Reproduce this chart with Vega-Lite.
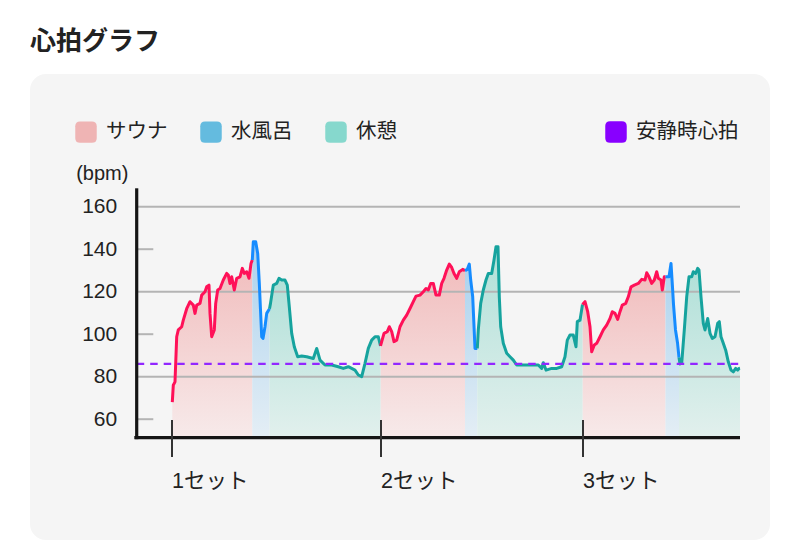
{
  "$schema": "https://vega.github.io/schema/vega-lite/v6.json",
  "width": 740,
  "height": 466,
  "autosize": {"type": "none"},
  "padding": {"left": 30, "top": 74, "right": 30, "bottom": 1},
  "background": "#ffffff",
  "view": {"fill": "#f5f5f5", "stroke": null, "cornerRadius": 16},
  "config": {
    "view": {"fill": "#f5f5f5", "stroke": null, "cornerRadius": 16},
    "font": "Liberation Sans"
  },
  "title": {
    "text": "心拍グラフ",
    "anchor": "start",
    "frame": "group",
    "font": "Noto Sans CJK JP",
    "fontSize": 26,
    "fontWeight": "bold",
    "color": "#222222",
    "offset": 19
  },
  "resolve": {"scale": {"color": "independent"}, "legend": {"color": "independent"}},
  "datasets": {
    "hr": [
      {"t":36.3,"hr":68,"phase":"サウナ","set":1},{"t":37.3,"hr":76,"phase":"サウナ","set":1},{"t":39,"hr":77.6,"phase":"サウナ","set":1},{"t":40.7,"hr":98.8,"phase":"サウナ","set":1},{"t":42.3,"hr":102,"phase":"サウナ","set":1},{"t":45.7,"hr":103.5,"phase":"サウナ","set":1},{"t":47.3,"hr":106.6,"phase":"サウナ","set":1},{"t":50.7,"hr":112,"phase":"サウナ","set":1},{"t":54,"hr":115.3,"phase":"サウナ","set":1},{"t":57.3,"hr":113.7,"phase":"サウナ","set":1},{"t":59,"hr":109.8,"phase":"サウナ","set":1},{"t":60.7,"hr":113.7,"phase":"サウナ","set":1},{"t":64,"hr":114.5,"phase":"サウナ","set":1},{"t":65.7,"hr":118.4,"phase":"サウナ","set":1},{"t":69,"hr":120,"phase":"サウナ","set":1},{"t":70.7,"hr":122.3,"phase":"サウナ","set":1},{"t":73,"hr":123.1,"phase":"サウナ","set":1},{"t":74,"hr":109.8,"phase":"サウナ","set":1},{"t":75.7,"hr":98.8,"phase":"サウナ","set":1},{"t":78.3,"hr":102,"phase":"サウナ","set":1},{"t":79.7,"hr":114.5,"phase":"サウナ","set":1},{"t":81.7,"hr":120.8,"phase":"サウナ","set":1},{"t":84,"hr":121.5,"phase":"サウナ","set":1},{"t":87.3,"hr":125.5,"phase":"サウナ","set":1},{"t":90.7,"hr":128.6,"phase":"サウナ","set":1},{"t":92.3,"hr":127.8,"phase":"サウナ","set":1},{"t":94,"hr":123.9,"phase":"サウナ","set":1},{"t":95.7,"hr":127,"phase":"サウナ","set":1},{"t":98.3,"hr":120.8,"phase":"サウナ","set":1},{"t":100.7,"hr":126.3,"phase":"サウナ","set":1},{"t":104,"hr":127,"phase":"サウナ","set":1},{"t":106.3,"hr":131,"phase":"サウナ","set":1},{"t":108.3,"hr":128.6,"phase":"サウナ","set":1},{"t":110.7,"hr":129.4,"phase":"サウナ","set":1},{"t":113,"hr":126.3,"phase":"サウナ","set":1},{"t":115,"hr":133.3,"phase":"サウナ","set":1},{"t":116.3,"hr":134.9,"phase":"サウナ","set":1},
      {"t":116.3,"hr":134.9,"phase":"水風呂","set":1},{"t":117.3,"hr":143.5,"phase":"水風呂","set":1},{"t":119.7,"hr":143.5,"phase":"水風呂","set":1},{"t":121.7,"hr":138,"phase":"水風呂","set":1},{"t":123.3,"hr":124,"phase":"水風呂","set":1},{"t":125.7,"hr":98.8,"phase":"水風呂","set":1},{"t":127,"hr":98,"phase":"水風呂","set":1},{"t":129,"hr":103.5,"phase":"水風呂","set":1},{"t":130.7,"hr":109.8,"phase":"水風呂","set":1},{"t":133.5,"hr":112,"phase":"水風呂","set":1},
      {"t":133.5,"hr":112,"phase":"休憩","set":1},{"t":134.5,"hr":114.5,"phase":"休憩","set":1},{"t":137.3,"hr":123.1,"phase":"休憩","set":1},{"t":140.7,"hr":123.9,"phase":"休憩","set":1},{"t":143,"hr":126.3,"phase":"休憩","set":1},{"t":145.7,"hr":125.5,"phase":"休憩","set":1},{"t":149,"hr":125.5,"phase":"休憩","set":1},{"t":151.3,"hr":123.1,"phase":"休憩","set":1},{"t":153.3,"hr":112.9,"phase":"休憩","set":1},{"t":155.7,"hr":100.4,"phase":"休憩","set":1},{"t":158.3,"hr":94.1,"phase":"休憩","set":1},{"t":161.7,"hr":89.4,"phase":"休憩","set":1},{"t":165.7,"hr":89.7,"phase":"休憩","set":1},{"t":170.7,"hr":89.4,"phase":"休憩","set":1},{"t":177.3,"hr":88.6,"phase":"休憩","set":1},{"t":180.7,"hr":93.3,"phase":"休憩","set":1},{"t":184,"hr":87.8,"phase":"休憩","set":1},{"t":189,"hr":85.5,"phase":"休憩","set":1},{"t":195.7,"hr":85.5,"phase":"休憩","set":1},{"t":202.3,"hr":84.7,"phase":"休憩","set":1},{"t":207.3,"hr":83.9,"phase":"休憩","set":1},{"t":212.3,"hr":84.7,"phase":"休憩","set":1},{"t":219,"hr":83.1,"phase":"休憩","set":1},{"t":222.3,"hr":80.8,"phase":"休憩","set":1},{"t":225.7,"hr":80,"phase":"休憩","set":1},{"t":229,"hr":86.3,"phase":"休憩","set":1},{"t":232.3,"hr":93.3,"phase":"休憩","set":1},{"t":235.7,"hr":97.2,"phase":"休憩","set":1},{"t":239,"hr":98.8,"phase":"休憩","set":1},{"t":242.3,"hr":98.8,"phase":"休憩","set":1},{"t":244.5,"hr":94.5,"phase":"休憩","set":1},
      {"t":244.5,"hr":94.5,"phase":"サウナ","set":2},{"t":245.7,"hr":96.5,"phase":"サウナ","set":2},{"t":248,"hr":100.4,"phase":"サウナ","set":2},{"t":251.3,"hr":101.2,"phase":"サウナ","set":2},{"t":253.3,"hr":103.5,"phase":"サウナ","set":2},{"t":255.7,"hr":101.2,"phase":"サウナ","set":2},{"t":258,"hr":96.5,"phase":"サウナ","set":2},{"t":260.7,"hr":97.2,"phase":"サウナ","set":2},{"t":264,"hr":103.5,"phase":"サウナ","set":2},{"t":267.3,"hr":106.6,"phase":"サウナ","set":2},{"t":270.7,"hr":109,"phase":"サウナ","set":2},{"t":274,"hr":112.1,"phase":"サウナ","set":2},{"t":277.3,"hr":115.3,"phase":"サウナ","set":2},{"t":280,"hr":117.9,"phase":"サウナ","set":2},{"t":284,"hr":118.4,"phase":"サウナ","set":2},{"t":287.3,"hr":120,"phase":"サウナ","set":2},{"t":290,"hr":121.5,"phase":"サウナ","set":2},{"t":292.3,"hr":120.8,"phase":"サウナ","set":2},{"t":294.7,"hr":123.9,"phase":"サウナ","set":2},{"t":297.3,"hr":123.9,"phase":"サウナ","set":2},{"t":300,"hr":118.4,"phase":"サウナ","set":2},{"t":303.3,"hr":118.4,"phase":"サウナ","set":2},{"t":305.7,"hr":123.9,"phase":"サウナ","set":2},{"t":308,"hr":126.3,"phase":"サウナ","set":2},{"t":310.7,"hr":130.2,"phase":"サウナ","set":2},{"t":313.3,"hr":133,"phase":"サウナ","set":2},{"t":315.7,"hr":131.4,"phase":"サウナ","set":2},{"t":318,"hr":128.6,"phase":"サウナ","set":2},{"t":320.7,"hr":126.3,"phase":"サウナ","set":2},{"t":323.3,"hr":129.4,"phase":"サウナ","set":2},{"t":326.7,"hr":130.5,"phase":"サウナ","set":2},{"t":329,"hr":129.9,"phase":"サウナ","set":2},
      {"t":329,"hr":129.9,"phase":"水風呂","set":2},{"t":331.3,"hr":130.5,"phase":"水風呂","set":2},{"t":333.3,"hr":133,"phase":"水風呂","set":2},{"t":334.7,"hr":125.5,"phase":"水風呂","set":2},{"t":336.7,"hr":117.6,"phase":"水風呂","set":2},{"t":339,"hr":93.3,"phase":"水風呂","set":2},{"t":341.3,"hr":93.3,"phase":"水風呂","set":2},
      {"t":341.3,"hr":93.3,"phase":"休憩","set":2},{"t":342.3,"hr":102,"phase":"休憩","set":2},{"t":344.7,"hr":114.5,"phase":"休憩","set":2},{"t":347.3,"hr":120.8,"phase":"休憩","set":2},{"t":350,"hr":125.5,"phase":"休憩","set":2},{"t":352.3,"hr":128.6,"phase":"休憩","set":2},{"t":355.7,"hr":128.6,"phase":"休憩","set":2},{"t":358,"hr":134.9,"phase":"休憩","set":2},{"t":360,"hr":141.2,"phase":"休憩","set":2},{"t":362,"hr":141.2,"phase":"休憩","set":2},{"t":363.3,"hr":117.6,"phase":"休憩","set":2},{"t":364.7,"hr":103.5,"phase":"休憩","set":2},{"t":367.3,"hr":95.7,"phase":"休憩","set":2},{"t":370.7,"hr":91,"phase":"休憩","set":2},{"t":374,"hr":89.4,"phase":"休憩","set":2},{"t":377.3,"hr":87.8,"phase":"休憩","set":2},{"t":380.7,"hr":85.5,"phase":"休憩","set":2},{"t":387.3,"hr":85.5,"phase":"休憩","set":2},{"t":395.7,"hr":85.5,"phase":"休憩","set":2},{"t":402.3,"hr":85.5,"phase":"休憩","set":2},{"t":405.7,"hr":83.9,"phase":"休憩","set":2},{"t":407.3,"hr":86.6,"phase":"休憩","set":2},{"t":410,"hr":83.1,"phase":"休憩","set":2},{"t":415.7,"hr":83.9,"phase":"休憩","set":2},{"t":420.7,"hr":83.9,"phase":"休憩","set":2},{"t":425.7,"hr":84.7,"phase":"休憩","set":2},{"t":429,"hr":89.4,"phase":"休憩","set":2},{"t":431.3,"hr":97.2,"phase":"休憩","set":2},{"t":434,"hr":99.6,"phase":"休憩","set":2},{"t":437.3,"hr":99.6,"phase":"休憩","set":2},{"t":440,"hr":94.1,"phase":"休憩","set":2},{"t":441.3,"hr":105.9,"phase":"休憩","set":2},{"t":444,"hr":106.6,"phase":"休憩","set":2},{"t":446.5,"hr":114,"phase":"休憩","set":2},
      {"t":446.5,"hr":114,"phase":"サウナ","set":3},{"t":449,"hr":115.3,"phase":"サウナ","set":3},{"t":451.7,"hr":110.6,"phase":"サウナ","set":3},{"t":454,"hr":103.5,"phase":"サウナ","set":3},{"t":455.7,"hr":91.7,"phase":"サウナ","set":3},{"t":458.3,"hr":94.9,"phase":"サウナ","set":3},{"t":460.7,"hr":95.7,"phase":"サウナ","set":3},{"t":464,"hr":98.8,"phase":"サウナ","set":3},{"t":467.3,"hr":102,"phase":"サウナ","set":3},{"t":470.7,"hr":104.3,"phase":"サウナ","set":3},{"t":474,"hr":107.4,"phase":"サウナ","set":3},{"t":476.3,"hr":110.6,"phase":"サウナ","set":3},{"t":479,"hr":109.8,"phase":"サウナ","set":3},{"t":481.7,"hr":107,"phase":"サウナ","set":3},{"t":484,"hr":110.6,"phase":"サウナ","set":3},{"t":486.3,"hr":113.7,"phase":"サウナ","set":3},{"t":489.7,"hr":114.5,"phase":"サウナ","set":3},{"t":492.3,"hr":117.6,"phase":"サウナ","set":3},{"t":495,"hr":122.3,"phase":"サウナ","set":3},{"t":498.3,"hr":123.1,"phase":"サウナ","set":3},{"t":502.3,"hr":123.9,"phase":"サウナ","set":3},{"t":505.7,"hr":125.8,"phase":"サウナ","set":3},{"t":509,"hr":125.5,"phase":"サウナ","set":3},{"t":510.7,"hr":128.9,"phase":"サウナ","set":3},{"t":513,"hr":127,"phase":"サウナ","set":3},{"t":515.7,"hr":123.9,"phase":"サウナ","set":3},{"t":518.3,"hr":125.5,"phase":"サウナ","set":3},{"t":520.7,"hr":129.4,"phase":"サウナ","set":3},{"t":522.3,"hr":126.3,"phase":"サウナ","set":3},{"t":525,"hr":125.5,"phase":"サウナ","set":3},{"t":526.3,"hr":120.8,"phase":"サウナ","set":3},{"t":528.3,"hr":127,"phase":"サウナ","set":3},{"t":529.5,"hr":127,"phase":"サウナ","set":3},
      {"t":529.5,"hr":127,"phase":"水風呂","set":3},{"t":533,"hr":127,"phase":"水風呂","set":3},{"t":535,"hr":133.3,"phase":"水風呂","set":3},{"t":536.5,"hr":122,"phase":"水風呂","set":3},{"t":537.5,"hr":114,"phase":"水風呂","set":3},{"t":539.5,"hr":102,"phase":"水風呂","set":3},{"t":541.5,"hr":96,"phase":"水風呂","set":3},{"t":543,"hr":89,"phase":"水風呂","set":3},
      {"t":543,"hr":89,"phase":"休憩","set":3},{"t":544,"hr":86,"phase":"休憩","set":3},{"t":545.7,"hr":86.3,"phase":"休憩","set":3},{"t":548.3,"hr":102,"phase":"休憩","set":3},{"t":550.7,"hr":117.6,"phase":"休憩","set":3},{"t":553,"hr":127,"phase":"休憩","set":3},{"t":555.7,"hr":127,"phase":"休憩","set":3},{"t":557.3,"hr":129.4,"phase":"休憩","set":3},{"t":559.7,"hr":128.6,"phase":"休憩","set":3},{"t":561.7,"hr":131,"phase":"休憩","set":3},{"t":563,"hr":130.2,"phase":"休憩","set":3},{"t":565,"hr":117.6,"phase":"休憩","set":3},{"t":567.3,"hr":105.1,"phase":"休憩","set":3},{"t":569,"hr":102,"phase":"休憩","set":3},{"t":571.7,"hr":107.4,"phase":"休憩","set":3},{"t":574,"hr":100.4,"phase":"休憩","set":3},{"t":576.3,"hr":98,"phase":"休憩","set":3},{"t":579,"hr":98.8,"phase":"休憩","set":3},{"t":581.7,"hr":105.1,"phase":"休憩","set":3},{"t":583.3,"hr":105.9,"phase":"休憩","set":3},{"t":585,"hr":98.8,"phase":"休憩","set":3},{"t":587.3,"hr":95.7,"phase":"休憩","set":3},{"t":589.7,"hr":92.5,"phase":"休憩","set":3},{"t":592.3,"hr":87,"phase":"休憩","set":3},{"t":595,"hr":83.1,"phase":"休憩","set":3},{"t":597.3,"hr":82.3,"phase":"休憩","set":3},{"t":599.7,"hr":83.9,"phase":"休憩","set":3},{"t":601.7,"hr":83.1,"phase":"休憩","set":3},{"t":603,"hr":83.9,"phase":"休憩","set":3},{"t":604,"hr":84,"phase":"休憩","set":3}
    ],
    "sets": [{"t":36,"label":"1セット"},{"t":245,"label":"2セット"},{"t":447,"label":"3セット"}],
    "grid": [{"hr":160},{"hr":120},{"hr":80}],
    "minor": [{"hr":140},{"hr":100},{"hr":60}],
    "phases": [{"phase":"サウナ"},{"phase":"水風呂"},{"phase":"休憩"}],
    "rest": [{"label":"安静時心拍","hr":86}]
  },
  "layer": [
    {
      "data": {"name": "hr"},
      "transform": [{"filter": "datum.phase === 'サウナ'"}],
      "mark": {"type": "area", "orient": "vertical", "fill": {"gradient": "linear", "x1": 0, "y1": 0, "x2": 0, "y2": 1, "stops": [{"offset": 0, "color": "#f1bdbd"}, {"offset": 1, "color": "#f7eaea"}]}},
      "encoding": {
        "x": {"field": "t", "type": "quantitative", "scale": {"domain": [-106, 634], "nice": false, "zero": false}, "axis": null},
        "y": {"field": "hr", "type": "quantitative", "scale": {"domain": [3.15, 222.45], "nice": false, "zero": false},
          "axis": {"orient": "left", "offset": -106.7, "values": [60, 80, 100, 120, 140, 160], "domain": false, "ticks": false, "tickSize": 0, "grid": false, "labelPadding": 20, "labelFont": "Liberation Sans", "labelFontSize": 21, "labelColor": "#222222", "labelAlign": "right", "labelBaseline": "middle", "labelFlush": false, "labelOverlap": false, "title": "(bpm)", "titleAngle": 0, "titleAlign": "left", "titleBaseline": "middle", "titleX": -61, "titleY": 99, "titleFont": "Liberation Sans", "titleFontSize": 20, "titleFontWeight": "normal", "titleColor": "#222222"}},
        "y2": {"datum": 51.34},
        "detail": {"field": "set"}
      }
    },
    {
      "data": {"name": "hr"},
      "transform": [{"filter": "datum.phase === '水風呂'"}],
      "mark": {"type": "area", "orient": "vertical", "fill": {"gradient": "linear", "x1": 0, "y1": 0, "x2": 0, "y2": 1, "stops": [{"offset": 0, "color": "#abd2ee"}, {"offset": 1, "color": "#e4eef5"}]}},
      "encoding": {
        "x": {"field": "t", "type": "quantitative", "axis": null},
        "y": {"field": "hr", "type": "quantitative"},
        "y2": {"datum": 51.34},
        "detail": {"field": "set"}
      }
    },
    {
      "data": {"name": "hr"},
      "transform": [{"filter": "datum.phase === '休憩'"}],
      "mark": {"type": "area", "orient": "vertical", "fill": {"gradient": "linear", "x1": 0, "y1": 0, "x2": 0, "y2": 1, "stops": [{"offset": 0, "color": "#b0e0d8"}, {"offset": 1, "color": "#e2f0ed"}]}},
      "encoding": {
        "x": {"field": "t", "type": "quantitative", "axis": null},
        "y": {"field": "hr", "type": "quantitative"},
        "y2": {"datum": 51.34},
        "detail": {"field": "set"}
      }
    },
    {
      "data": {"name": "grid"},
      "mark": {"type": "rule", "color": "#b4b4b4", "strokeWidth": 2},
      "encoding": {
        "x": {"datum": 2, "type": "quantitative", "axis": null},
        "x2": {"datum": 604},
        "y": {"field": "hr", "type": "quantitative"}
      }
    },
    {
      "data": {"name": "minor"},
      "mark": {"type": "rule", "color": "#b4b4b4", "strokeWidth": 2},
      "encoding": {
        "x": {"datum": 2, "type": "quantitative", "axis": null},
        "x2": {"datum": 17.3},
        "y": {"field": "hr", "type": "quantitative"}
      }
    },
    {
      "data": {"name": "hr"},
      "mark": {"type": "line", "strokeWidth": 3, "strokeJoin": "round"},
      "encoding": {
        "x": {"field": "t", "type": "quantitative", "axis": null},
        "y": {"field": "hr", "type": "quantitative"},
        "stroke": {"field": "phase", "type": "nominal", "scale": {"domain": ["サウナ", "水風呂", "休憩"], "range": ["#ff1158", "#168cff", "#16a39e"]}, "legend": null},
        "detail": {"field": "set"}
      }
    },
    {
      "data": {"name": "rest"},
      "mark": {"type": "rule", "color": "#9227ff", "strokeWidth": 2.3, "strokeDash": [7.5, 6]},
      "encoding": {
        "x": {"datum": 0.7, "type": "quantitative", "axis": null},
        "x2": {"datum": 604},
        "y": {"field": "hr", "type": "quantitative"}
      }
    },
    {
      "data": {"values": [{}]},
      "mark": {"type": "rule", "color": "#151515", "strokeWidth": 3.2},
      "encoding": {
        "x": {"datum": -1.7, "type": "quantitative", "axis": null},
        "x2": {"datum": 604},
        "y": {"datum": 51.34, "type": "quantitative"}
      }
    },
    {
      "data": {"values": [{}]},
      "mark": {"type": "rule", "color": "#151515", "strokeWidth": 3.2},
      "encoding": {
        "x": {"datum": 0.7, "type": "quantitative", "axis": null},
        "y": {"datum": 50.6, "type": "quantitative"},
        "y2": {"datum": 168.66}
      }
    },
    {
      "data": {"name": "sets"},
      "mark": {"type": "rule", "color": "#333333", "strokeWidth": 2},
      "encoding": {
        "x": {"field": "t", "type": "quantitative", "axis": null},
        "y": {"datum": 59.6, "type": "quantitative"},
        "y2": {"datum": 42.2}
      }
    },
    {
      "data": {"name": "sets"},
      "mark": {"type": "text", "align": "left", "baseline": "middle", "font": "Liberation Sans, Noto Sans CJK JP", "fontSize": 21.5, "color": "#222222"},
      "encoding": {
        "x": {"field": "t", "type": "quantitative", "axis": null},
        "y": {"datum": 30.5, "type": "quantitative"},
        "text": {"field": "label"}
      }
    },
    {
      "data": {"name": "phases"},
      "mark": {"type": "point", "filled": true, "opacity": 0},
      "encoding": {
        "color": {"field": "phase", "type": "nominal", "scale": {"domain": ["サウナ", "水風呂", "休憩"], "range": ["#efb4b4", "#64bbdf", "#86d8cd"]},
          "legend": {"title": null, "orient": "none", "legendX": 45, "legendY": 47, "direction": "horizontal", "columns": 3, "symbolType": "M-1,-0.55Q-1,-1,-0.55,-1L0.55,-1Q1,-1,1,-0.55L1,0.55Q1,1,0.55,1L-0.55,1Q-1,1,-1,0.55Z", "symbolSize": 462, "symbolStrokeWidth": 0, "symbolOpacity": 1, "labelFont": "Noto Sans CJK JP", "labelFontSize": 20.5, "labelColor": "#222222", "labelOffset": 9, "columnPadding": 32, "padding": 0, "labelLimit": 300}}
      }
    },
    {
      "data": {"name": "rest"},
      "mark": {"type": "point", "filled": true, "opacity": 0},
      "encoding": {
        "color": {"field": "label", "type": "nominal", "scale": {"domain": ["安静時心拍"], "range": ["#8800ff"]},
          "legend": {"title": null, "orient": "none", "legendX": 575, "legendY": 47, "symbolType": "M-1,-0.55Q-1,-1,-0.55,-1L0.55,-1Q1,-1,1,-0.55L1,0.55Q1,1,0.55,1L-0.55,1Q-1,1,-1,0.55Z", "symbolSize": 462, "symbolStrokeWidth": 0, "symbolOpacity": 1, "labelFont": "Noto Sans CJK JP", "labelFontSize": 20.5, "labelColor": "#222222", "labelOffset": 9, "padding": 0, "labelLimit": 300}}
      }
    }
  ]
}
